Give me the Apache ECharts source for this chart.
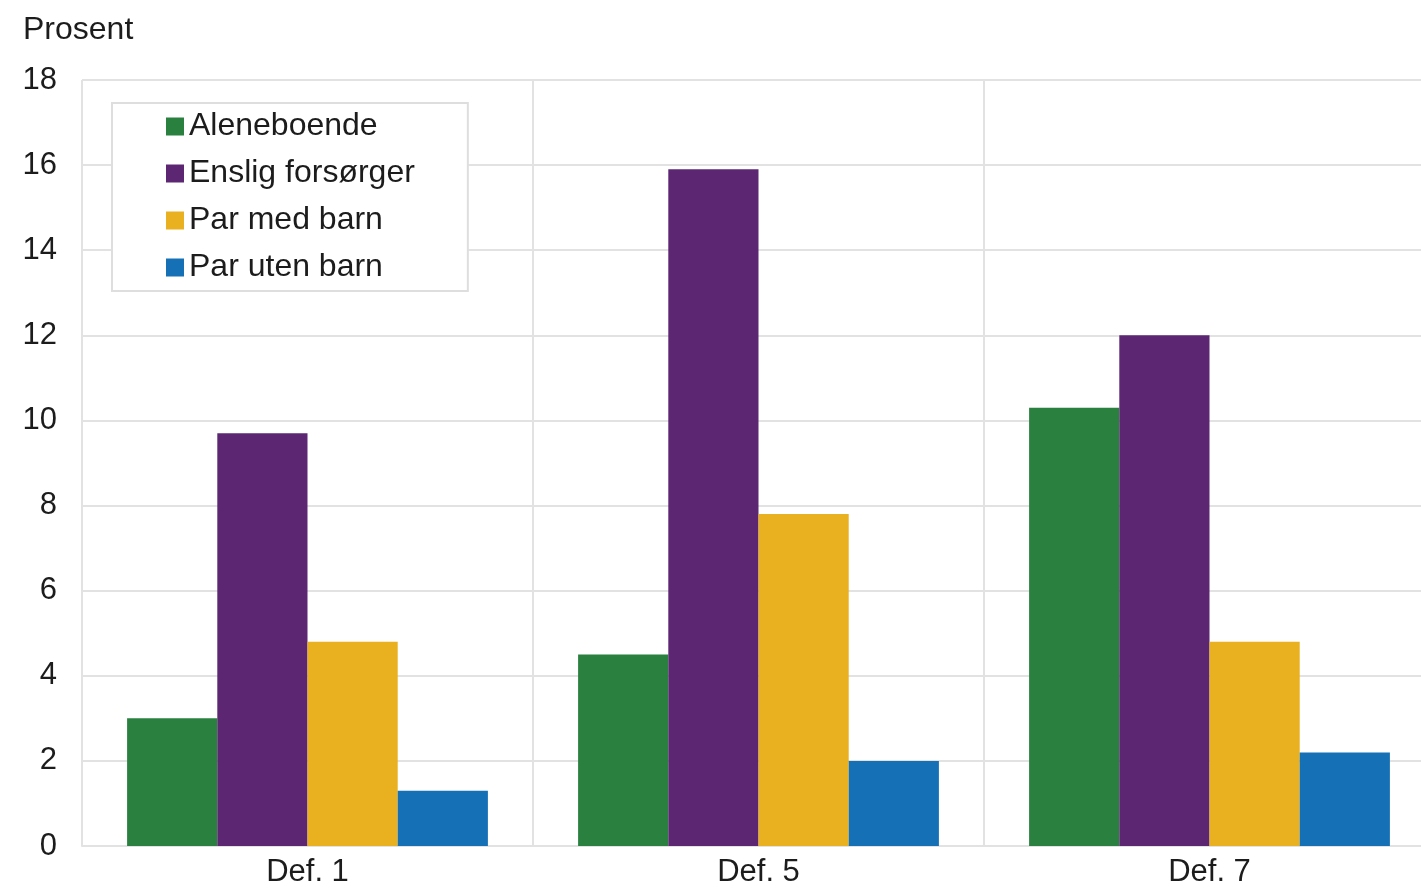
<!DOCTYPE html>
<html>
<head>
<meta charset="utf-8">
<style>
  html, body { margin: 0; padding: 0; background: #fff; overflow: hidden; }
  #chart { width: 1435px; height: 888px; }
</style>
<script src="https://cdn.jsdelivr.net/npm/echarts@6/dist/echarts.min.js"></script>
</head>
<body>
<div id="chart"></div>
<script>
// Categories and series values (percent)
const categories = ['Def. 1', 'Def. 5', 'Def. 7'];
const aleneboende = [3.0, 4.5, 10.3];
const ensligForsorger = [9.7, 15.9, 12.0];
const parMedBarn = [4.8, 7.8, 4.8];
const parUtenBarn = [1.3, 2.0, 2.2];
const seriesNames = ['Aleneboende', 'Enslig forsørger', 'Par med barn', 'Par uten barn'];
const colors = ['#2a803f', '#5c2673', '#e9b11f', '#1570b5'];

const FONT = 'Liberation Sans, Arial, sans-serif';
const TEXT = '#1c1c1c';
const GRID_LINE = '#e2e2e2';

const chart = echarts.init(document.getElementById('chart'), null, { renderer: 'canvas' });

const valueLists = [aleneboende, ensligForsorger, parMedBarn, parUtenBarn];

chart.setOption({
  animation: false,
  color: colors,
  title: {
    text: 'Prosent',
    left: 18,
    top: 9,
    textStyle: { fontFamily: FONT, fontSize: 32, fontWeight: 'normal', color: TEXT }
  },
  legend: {
    orient: 'vertical',
    left: 112,
    top: 103,
    padding: [7, 53, 7, 54],
    itemGap: 14,
    itemWidth: 18,
    itemHeight: 18,
    icon: 'rect',
    borderColor: '#dedede',
    borderWidth: 2,
    backgroundColor: '#fff',
    data: seriesNames,
    textStyle: { fontFamily: FONT, fontSize: 32, color: TEXT, lineHeight: 33 }
  },
  // the plot runs slightly past the right edge of the window
  grid: { left: 82, top: 80, right: 0, bottom: 42 },
  xAxis: {
    type: 'category',
    data: categories,
    axisLine: { show: true, lineStyle: { color: GRID_LINE, width: 2 } },
    axisTick: { show: false },
    splitLine: { show: true, lineStyle: { color: GRID_LINE, width: 2 } },
    axisLabel: { fontFamily: FONT, fontSize: 31, color: TEXT, margin: 11 }
  },
  yAxis: {
    type: 'value',
    min: 0,
    max: 18,
    interval: 2,
    axisLine: { show: false },
    axisTick: { show: false },
    splitLine: { show: true, lineStyle: { color: GRID_LINE, width: 2 } },
    axisLabel: { fontFamily: FONT, fontSize: 31, color: TEXT, margin: 25 }
  },
  series: seriesNames.map((name, i) => ({
    name: name,
    type: 'bar',
    data: valueLists[i],
    barGap: '0%',
    barCategoryGap: '20%',
    itemStyle: { color: colors[i] }
  }))
});
</script>
</body>
</html>
